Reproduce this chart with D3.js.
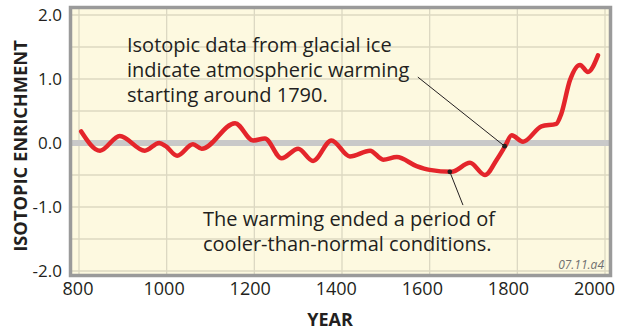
<!DOCTYPE html>
<html>
<head>
<meta charset="utf-8">
<script src="https://cdn.jsdelivr.net/npm/d3@7"></script>
<style>
  body { margin: 0; background: #fff; }
  text { font-family: "Open Sans", "Noto Sans", sans-serif; fill: #231f20; }
</style>
</head>
<body>
<div id="chart"></div>
<script>
// isotopic record
var years  = [805, 848, 893, 950, 983, 998, 1024, 1060, 1080, 1156, 1197, 1224, 1262, 1300, 1334, 1376,
              1418, 1464, 1494, 1525, 1570, 1600, 1650, 1692, 1726, 1753, 1772, 1787, 1813, 1855, 1889,
              1900, 1920, 1943, 1961, 1984];
var values = [0.18, -0.12, 0.11, -0.12, 0.00, -0.05, -0.20, -0.02, -0.09, 0.31, 0.04, 0.07, -0.24, -0.09, -0.28, 0.04,
              -0.21, -0.12, -0.26, -0.22, -0.36, -0.42, -0.45, -0.31, -0.50, -0.26, -0.05, 0.12, 0.02, 0.26, 0.30,
              0.45, 0.98, 1.22, 1.11, 1.37];

var xTicks = [800, 1000, 1200, 1400, 1600, 1800, 2000];
var yTicks = [-2, -1, 0, 1, 2];
var yGrid  = [-2, -1.5, -1, -0.5, 0.5, 1, 1.5, 2];

// annotations: dot on the curve and the far end of the leader
var notes = [
  { dotYear: 1771, dotVal: -0.05, endYear: 1573, endVal: 1.03,
    lines: ["Isotopic data from glacial ice", "indicate atmospheric warming", "starting around 1790."],
    x: 127, y: 52 },
  { dotYear: 1646, dotVal: -0.45, endYear: 1676, endVal: -0.97,
    lines: ["The warming ended a period of", "cooler-than-normal conditions."],
    x: 203, y: 226 }
];

var data = years.map(function(d, i) { return { year: d, value: values[i] }; });

var width = 623, height = 331;

var svg = d3.select("#chart").append("svg")
    .attr("width", width)
    .attr("height", height);

var x = d3.scaleLinear().domain([800, 2000]).range([79, 605]);
var xLabel = d3.scaleLinear().domain([800, 2000]).range([77.5, 594]); // labels sit a bit left of the grid
var y = d3.scaleLinear().domain([-2, 2]).range([271, 15]);

// plot background
svg.append("rect")
    .attr("x", 70.5).attr("y", 7.5)
    .attr("width", 540).attr("height", 268)
    .attr("fill", "#fdf9e0");

// grid
svg.append("g").selectAll("line.v")
    .data(xTicks).enter().append("line")
    .attr("x1", function(d) { return x(d); }).attr("x2", function(d) { return x(d); })
    .attr("y1", 8).attr("y2", 275)
    .attr("stroke", "#dcd8c2").attr("stroke-width", 1.3);

svg.append("g").selectAll("line.h")
    .data(yGrid).enter().append("line")
    .attr("x1", 71).attr("x2", 610)
    .attr("y1", function(d) { return y(d); }).attr("y2", function(d) { return y(d); })
    .attr("stroke", "#dcd8c2").attr("stroke-width", 1.3);

// zero line
svg.append("line")
    .attr("x1", 71).attr("x2", 610)
    .attr("y1", y(0)).attr("y2", y(0))
    .attr("stroke", "#c9c9c9").attr("stroke-width", 6);

// frame
svg.append("rect")
    .attr("x", 70.5).attr("y", 7.5)
    .attr("width", 540).attr("height", 268)
    .attr("fill", "none")
    .attr("stroke", "#9a9a9a").attr("stroke-width", 3.5);

// axes
var fmt = function(d) { return d3.format(".1f")(d).replace("\u2212", "-"); };

var yAxis = svg.append("g")
    .attr("transform", "translate(70,0)")
    .call(d3.axisLeft(y).tickValues(yTicks).tickSize(0).tickPadding(8).tickFormat(fmt));
yAxis.select(".domain").remove();
yAxis.selectAll("text")
    .attr("font-size", 17).attr("font-family", null)
    .attr("dy", "0.3em");

var xAxis = svg.append("g")
    .call(d3.axisBottom(xLabel).tickValues(xTicks).tickSize(0).tickFormat(d3.format("d")));
xAxis.select(".domain").remove();
xAxis.selectAll("text")
    .attr("font-size", 18).attr("font-family", null)
    .attr("y", 295).attr("dy", null);

// axis titles
svg.append("text")
    .attr("transform", "translate(27," + 146 + ") rotate(-90)")
    .attr("text-anchor", "middle")
    .attr("font-size", 18.3).attr("font-weight", "bold")
    .text("ISOTOPIC ENRICHMENT");

svg.append("text")
    .attr("x", 330).attr("y", 326)
    .attr("text-anchor", "middle")
    .attr("font-size", 18).attr("font-weight", "bold")
    .text("YEAR");

// curve
var line = d3.line()
    .x(function(d) { return x(d.year); })
    .y(function(d) { return y(d.value); })
    .curve(d3.curveMonotoneX);

svg.append("path")
    .datum(data)
    .attr("d", line)
    .attr("fill", "none")
    .attr("stroke", "#e4252b")
    .attr("stroke-width", 4.5)
    .attr("stroke-linecap", "round")
    .attr("stroke-linejoin", "round");

// annotations
notes.forEach(function(n) {
    svg.append("line")
        .attr("x1", x(n.dotYear)).attr("y1", y(n.dotVal))
        .attr("x2", x(n.endYear)).attr("y2", y(n.endVal))
        .attr("stroke", "#231f20").attr("stroke-width", 1);
    svg.append("circle")
        .attr("cx", x(n.dotYear)).attr("cy", y(n.dotVal))
        .attr("r", 2.4).attr("fill", "#231f20");
    var t = svg.append("text")
        .attr("x", n.x).attr("y", n.y)
        .attr("font-size", 20);
    n.lines.forEach(function(l, i) {
        t.append("tspan").attr("x", n.x).attr("dy", i === 0 ? 0 : 25).text(l);
    });
});

svg.append("text")
    .attr("x", 604).attr("y", 269)
    .attr("text-anchor", "end")
    .attr("font-size", 12).attr("font-style", "italic")
    .style("fill", "#707070")
    .text("07.11.a4");
</script>
</body>
</html>
